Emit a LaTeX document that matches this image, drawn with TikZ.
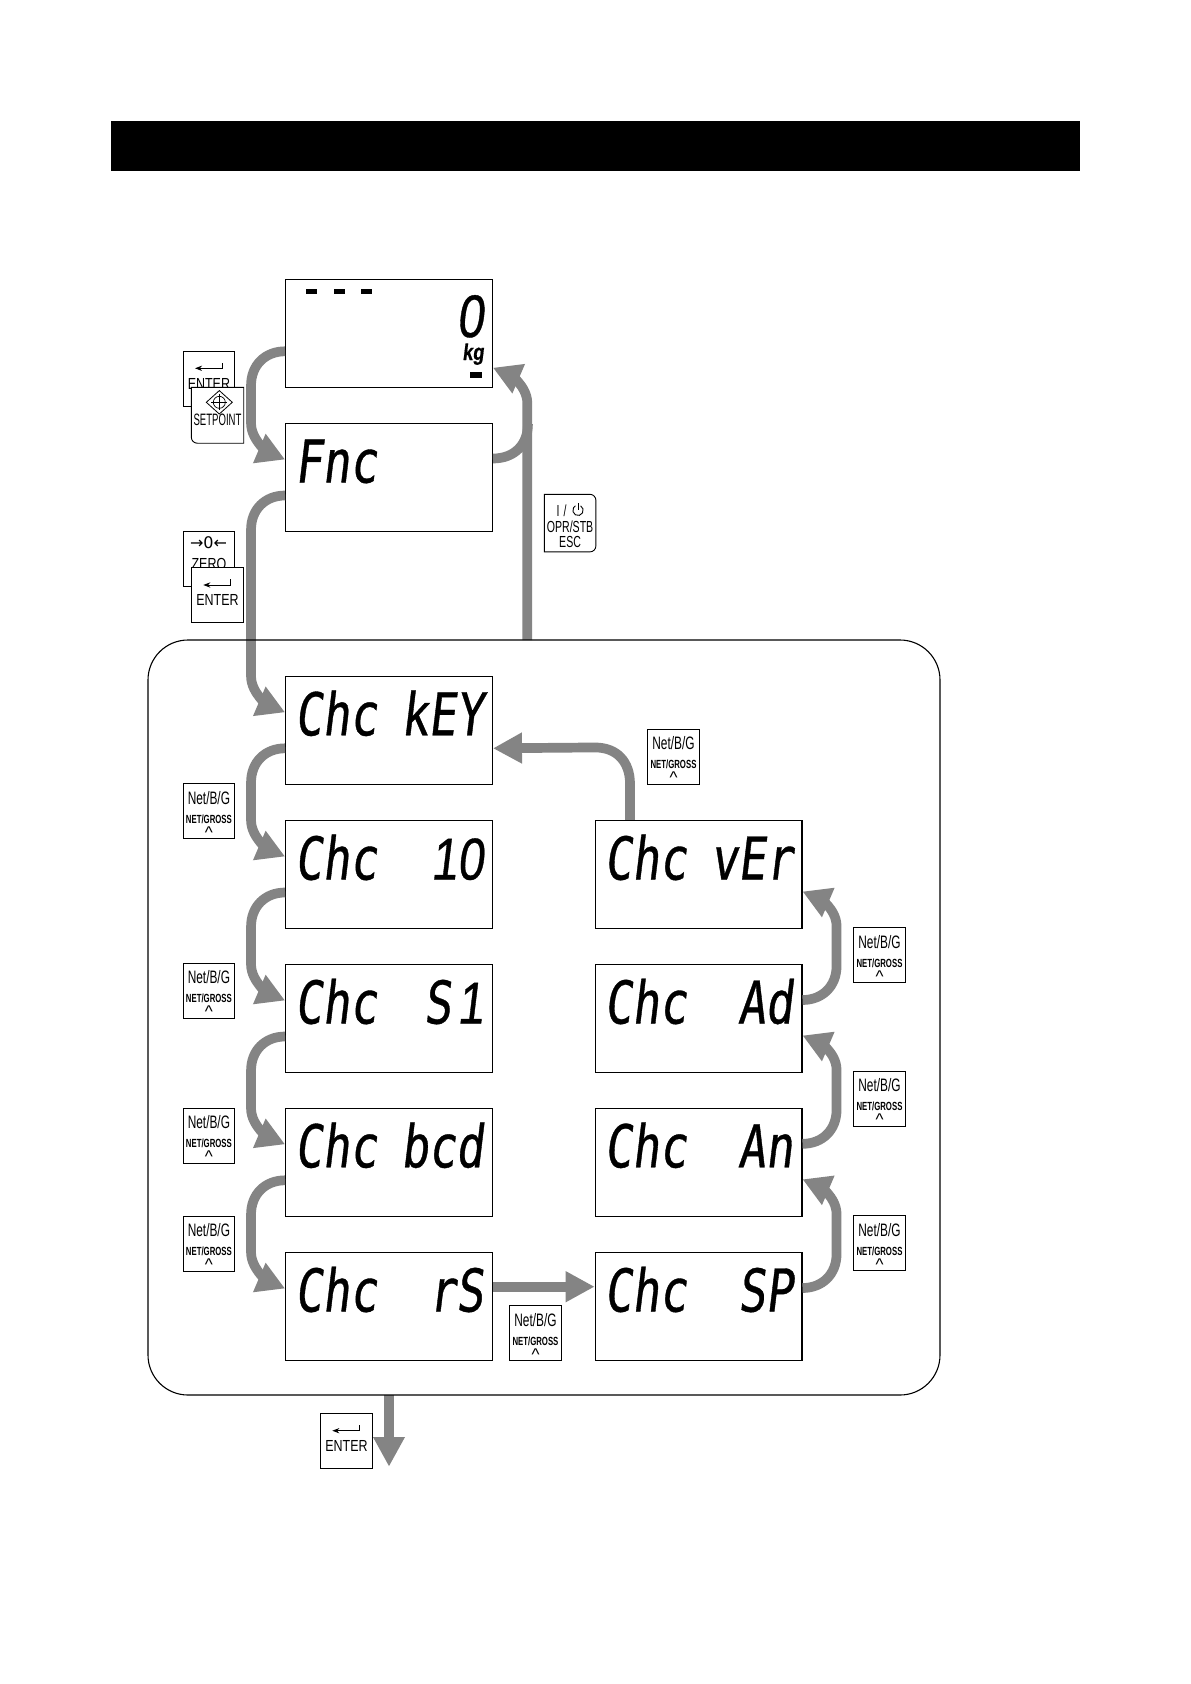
\documentclass[tikz,border=0pt]{standalone}
\usepackage{fontspec}
\usepackage{xcolor}
\usepackage{tikz}
\usetikzlibrary{arrows.meta, calc}
\newfontfamily\lcdfont[FakeSlant=0.12, FakeStretch=0.774, FakeBold=0.6]{DejaVu Sans Mono}
\newfontfamily\lcdnum[FakeSlant=0.12, FakeStretch=0.8, FakeBold=0.6]{Liberation Sans}
\newfontfamily\keyfont[FakeStretch=0.78]{Liberation Sans}
\newfontfamily\keynarrow[FakeStretch=0.58]{Liberation Sans}
\newfontfamily\keynet[FakeStretch=0.66]{Liberation Sans}
\newfontfamily\keyplain{Liberation Sans}
\newfontfamily\symfont{DejaVu Sans}
\definecolor{flowgray}{HTML}{848484}
\newcommand{\netlabel}{{\keynet\fontsize{18}{19}\selectfont\rule{0pt}{19.5pt}Net/B/G}\\[0pt]{\keynet\bfseries\fontsize{11.8}{13}\selectfont NET/GROSS}\\[-4pt]{\keyplain\fontsize{17}{14}\selectfont\textasciicircum}}
\tikzset{
    lcd/.style={draw, line width=1.3pt, inner xsep=9pt, inner ysep=0pt, text width=188.6pt, align=left,
        text height=59pt, text depth=49pt, font=\lcdfont\fontsize{59}{60}\selectfont},
    keybox/.style={draw, line width=0.9pt, fill=white, anchor=north west, inner sep=0pt,
        minimum width=51.5pt, minimum height=55pt},
    netkey/.style={keybox, align=center, font=\fontsize{16}{19}\selectfont},
    textkey/.style={keybox, text height=38pt, text depth=17pt, font=\keyfont\fontsize{16}{17}\selectfont},
    keyline/.style={line width=0.9pt},
    flowline/.style={draw=flowgray, line width=9.7pt},
    flow/.style={flowline, -{Triangle[length=28pt, width=30pt]}}
}

\begin{document}
\begin{tikzpicture}[x=1pt, y=-1pt, >=Stealth]
    \useasboundingbox (0,0) rectangle (1191,1684);
    \fill[white] (0,0) rectangle (1191,1684);
    % Title bar
    \fill[black] (111,121) rectangle (1080.4,171);

    % Left column of displays
    \node[lcd] (dtop) at (389,333.3) {};
    \node[lcd] (dfnc) at (389,477.5) {Fnc};
    \node[lcd] (dkey) at (389,730.3) {Chc\hfill kEY};
    \node[lcd] (dio) at (389,874.5) {Chc\hfill{\lcdnum 10}};
    \node[lcd] (dsi) at (389,1018.5) {Chc\hfill S{\lcdnum\hspace{6pt}1}};
    \node[lcd] (dbcd) at (389,1162.3) {Chc\hfill bcd};
    \node[lcd] (drs) at (389,1306.5) {Chc\hfill rS};
    % Right column of displays
    \node[lcd] (dver) at (698.6,874.5) {Chc\hfill vEr};
    \node[lcd] (dad) at (698.6,1018.5) {Chc\hfill Ad};
    \node[lcd] (dan) at (698.6,1162.3) {Chc\hfill An};
    \node[lcd] (dsp) at (698.6,1306.5) {Chc\hfill SP};

    % Marks on the top display
    \fill (306,289.3) rectangle ++(10.7,4.4);
    \fill (334,289.3) rectangle ++(10.7,4.4);
    \fill (361.3,289.3) rectangle ++(10.7,4.4);
    \fill (470,372) rectangle ++(12,5.7);
    \node[anchor=base east, inner sep=0pt, font=\lcdnum\fontsize{60}{60}\selectfont] (zero) at (483.5,337) {0};
    \node[anchor=base east, inner sep=0pt, font=\lcdnum\bfseries\fontsize{23}{23}\selectfont] (kg) at (484,360) {kg};

    % Free ends of the connectors
    \coordinate (esc) at (527.3,640);
    \coordinate (bot) at (389,1395);
    \coordinate (out) at (389,1466.7);

    % Left column, going down
    \draw[flow] ([yshift=-18pt]dtop.west) .. controls +(-20,0) and +(0,-20) .. ++(-34,34) -- ++(0,38) .. controls +(0,18) and +(-14,-6) .. ([yshift=18pt]dfnc.west);
    \draw[flow] ([yshift=-18pt]dfnc.west) .. controls +(-20,0) and +(0,-20) .. ++(-34,34) -- ++(0,146.8) .. controls +(0,18) and +(-14,-6) .. ([yshift=18pt]dkey.west);
    \draw[flow] ([yshift=-18pt]dkey.west) .. controls +(-20,0) and +(0,-20) .. ++(-34,34) -- ++(0,38) .. controls +(0,18) and +(-14,-6) .. ([yshift=18pt]dio.west);
    \draw[flow] ([yshift=-18pt]dio.west) .. controls +(-20,0) and +(0,-20) .. ++(-34,34) -- ++(0,38) .. controls +(0,18) and +(-14,-6) .. ([yshift=18pt]dsi.west);
    \draw[flow] ([yshift=-18pt]dsi.west) .. controls +(-20,0) and +(0,-20) .. ++(-34,34) -- ++(0,38) .. controls +(0,18) and +(-14,-6) .. ([yshift=18pt]dbcd.west);
    \draw[flow] ([yshift=-18pt]dbcd.west) .. controls +(-20,0) and +(0,-20) .. ++(-34,34) -- ++(0,38) .. controls +(0,18) and +(-14,-6) .. ([yshift=18pt]drs.west);
    % Across and up the right column
    \draw[flow, -{Triangle[length=29pt, width=29pt]}] ([yshift=19.8pt]drs.east) -- ([yshift=19.8pt]dsp.west);
    \draw[flow] ([yshift=18.5pt]dsp.east) .. controls +(20,0) and +(0,20) .. ++(34,-34) -- ++(0,-40) .. controls +(0,-18) and +(14,6) .. ([yshift=-17pt]dan.east);
    \draw[flow] ([yshift=18.5pt]dan.east) .. controls +(20,0) and +(0,20) .. ++(34,-34) -- ++(0,-40) .. controls +(0,-18) and +(14,6) .. ([yshift=-17pt]dad.east);
    \draw[flow] ([yshift=18.5pt]dad.east) .. controls +(20,0) and +(0,20) .. ++(34,-34) -- ++(0,-40) .. controls +(0,-18) and +(14,6) .. ([yshift=-17pt]dver.east);
    \draw[flow, -{Triangle[length=29pt, width=29pt]}] ([xshift=-68.6pt]dver.north) -- ++(0,-36) .. controls +(0,-22) and +(22,0) .. ++(-35,-36.4) -- ([yshift=-18pt]dkey.east);
    % Way out at the top and the bottom
    \draw[flowline] ([yshift=19pt]dfnc.east) .. controls +(22,0) and +(0,20) .. ++(35,-34.5);
    \draw[flow] (esc) -- ++(0,-237) .. controls +(0,-18) and +(14,6) .. ([yshift=-34.4pt]dtop.east);
    \draw[flow, -{Triangle[length=29.7pt, width=29.7pt]}] (bot) -- (out);

    % Frame round the check menu
    \node[draw, line width=1.1pt, rounded corners=40pt, minimum width=792pt, minimum height=755pt] (menu) at (544,1017.5) {};

    % ENTER + SETPOINT
    \node[textkey] (kenter) at (182.7,351) {ENTER};
    \draw[keyline, ->] ($(kenter.north west)+(39.7,12)$) -- ++(0,5.3) -- ++(-27.4,0);
    \node[textkey, draw=none, font=\keynarrow\fontsize{16.5}{17}\selectfont] (kset) at (191.3,387.3) {SETPOINT};
    \draw[keyline] (kset.west) -- (kset.north west) -- (kset.north east) -- (kset.south east) [rounded corners=6pt] -- (kset.south west) -- cycle;
    \draw[line width=0.8pt] ($(kset.north west)+(15,15)$) -- ++(13,-11.7) -- ++(13,11.7) -- ++(-13,11.7) -- cycle;
    \draw[line width=0.7pt] ($(kset.north west)+(28,15)$) circle (6);
    \draw[line width=0.7pt] ($(kset.north west)+(20,15)$) -- ++(16,0);
    \draw[line width=0.7pt] ($(kset.north west)+(28,7)$) -- ++(0,16);

    % ZERO + ENTER
    \node[textkey] (kzero) at (182.7,531.3) {ZERO};
    \node[font=\symfont\fontsize{16}{16}\selectfont, inner sep=0pt] (kzeromark) at ($(kzero.north west)+(25.8,11)$) {→0←};
    \node[textkey] (kent) at (191.3,567.3) {ENTER};
    \draw[keyline, ->] ($(kent.north west)+(39.4,12)$) -- ++(0,5.7) -- ++(-27.4,0);

    % OPR/STB + ESC
    \node[keybox, draw=none, minimum width=50.7pt, minimum height=56.7pt, align=center, font=\keynet\fontsize{16}{15}\selectfont] (kesc) at (544.3,494.3) {\rule{0pt}{18pt}\mbox{I\hspace{4pt}/\hspace{17pt}}\\[1.3pt]OPR/STB\\ESC};
    \draw[keyline] (kesc.west) -- (kesc.north west) [rounded corners=6pt] -- (kesc.north east) -- (kesc.south east) [sharp corners] -- (kesc.south west) -- cycle;
    \draw[keyline] ($(kesc.north west)+(36.3,11.5)$) arc (-60:240:5.2);
    \draw[keyline] ($(kesc.north west)+(33.7,9)$) -- ++(0,7);

    % Net keys
    \node[netkey] (knetret) at (647.3,729) {\netlabel};
    \node[netkey] (knetkey) at (182.7,783.3) {\netlabel};
    \node[netkey] (knetio) at (182.7,963) {\netlabel};
    \node[netkey] (knetsi) at (182.7,1108) {\netlabel};
    \node[netkey] (knetbcd) at (182.7,1215.7) {\netlabel};
    \node[netkey] (knetrs) at (509.3,1305.3) {\netlabel};
    \node[netkey] (knetad) at (853.3,927.3) {\netlabel};
    \node[netkey] (knetan) at (853.3,1071) {\netlabel};
    \node[netkey] (knetsp) at (853.3,1215.3) {\netlabel};

    % ENTER under the frame
    \node[textkey] (kexit) at (320.3,1413) {ENTER};
    \draw[keyline, ->] ($(kexit.north west)+(39.4,12)$) -- ++(0,5.7) -- ++(-27.4,0);
\end{tikzpicture}
\end{document}
